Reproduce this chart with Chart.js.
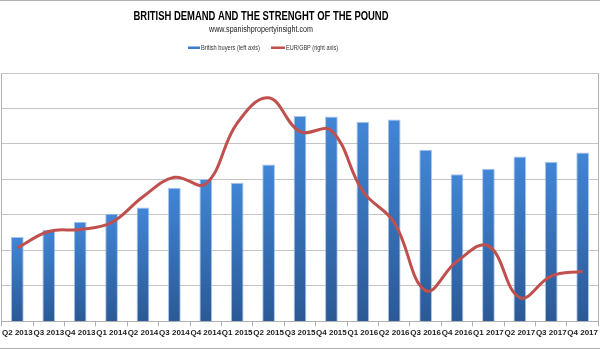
<!DOCTYPE html>
<html>
<head>
<meta charset="utf-8">
<script src="https://cdn.jsdelivr.net/npm/chart.js@4"></script>
<style>
  html, body { margin: 0; padding: 0; background: #fff; }
  #wrap { width: 600px; height: 350px; }
</style>
</head>
<body>
<div id="wrap"><canvas id="chart" width="600" height="350"></canvas></div>
<script>
// --- data ---
const quarters = ['Q2 2013', 'Q3 2013', 'Q4 2013', 'Q1 2014', 'Q2 2014', 'Q3 2014', 'Q4 2014',
  'Q1 2015', 'Q2 2015', 'Q3 2015', 'Q4 2015', 'Q1 2016', 'Q2 2016', 'Q3 2016', 'Q4 2016',
  'Q1 2017', 'Q2 2017', 'Q3 2017', 'Q4 2017'];
const britishBuyers = [475, 517, 562, 607, 642, 753, 802, 781, 885, 1157, 1155, 1125, 1138, 967, 830, 860, 930, 900, 952];
const eurGbp = [1.148, 1.181, 1.185, 1.199, 1.251, 1.290, 1.277, 1.399, 1.450, 1.382, 1.384, 1.262, 1.199, 1.062, 1.121, 1.152, 1.048, 1.091, 1.101];
const seriesNames = ['British buyers (left axis)', 'EUR/GBP (right axis)'];
const titleText = 'BRITISH DEMAND AND THE STRENGHT OF THE POUND';
const subtitleText = 'www.spanishpropertyinsight.com';

const FONT = "'Liberation Sans', Arial, sans-serif";
const BLUE = '#3b7cc9';
const RED = '#c0504d';

// gradient for each bar, light on top, darker at the base
function barGradient(context) {
  const chart = context.chart;
  const area = chart.chartArea;
  if (!area || context.raw == null) return BLUE;
  const top = chart.scales.y.getPixelForValue(context.raw);
  const g = chart.ctx.createLinearGradient(0, top, 0, area.bottom);
  g.addColorStop(0, '#4186d6');
  g.addColorStop(1, '#2b5996');
  return g;
}

// draw text squeezed horizontally to a width (the original uses a narrow font)
function drawFitted(ctx, text, font, x, y, width, align) {
  ctx.font = font;
  const k = width / ctx.measureText(text).width;
  ctx.save();
  ctx.translate(x, y);
  ctx.scale(k, 1);
  ctx.textAlign = align;
  ctx.textBaseline = 'middle';
  ctx.fillText(text, 0, 0);
  ctx.restore();
}

// title, subtitle, legend and frame lines (header centred like the original, slightly left)
const headerPlugin = {
  id: 'header',
  afterDraw(chart) {
    const ctx = chart.ctx;
    const cx = 261;
    ctx.save();
    ctx.fillStyle = '#000';
    drawFitted(ctx, titleText, 'bold 12.5px ' + FONT, cx, 16.5, 255, 'center');
    ctx.fillStyle = '#222';
    drawFitted(ctx, subtitleText, 'normal 8.5px ' + FONT, cx, 29.5, 104, 'center');

    // legend
    const items = [
      { x: 188, w: 12, c: BLUE, t: seriesNames[0], tw: 59 },
      { x: 271, w: 14, c: RED, t: seriesNames[1], tw: 52 }
    ];
    items.forEach(it => {
      ctx.fillStyle = it.c;
      ctx.fillRect(it.x, 46.5, it.w, 2.5);
      ctx.fillStyle = '#333';
      drawFitted(ctx, it.t, 'normal 7.5px ' + FONT, it.x + it.w + 1, 48, it.tw, 'left');
    });

    // frame
    ctx.strokeStyle = '#b0b0b0';
    ctx.lineWidth = 1;
    ctx.beginPath();
    ctx.moveTo(0, 0.5); ctx.lineTo(600, 0.5);
    ctx.moveTo(0, 348.5); ctx.lineTo(600, 348.5);
    ctx.stroke();
    ctx.restore();
  }
};

new Chart(document.getElementById('chart'), {
  data: {
    labels: quarters,
    datasets: [
      {
        type: 'line',
        label: seriesNames[1],
        data: eurGbp,
        yAxisID: 'y2',
        borderColor: RED,
        borderWidth: 3,
        pointRadius: 0,
        tension: 0.4,
        order: 0
      },
      {
        type: 'bar',
        label: seriesNames[0],
        data: britishBuyers,
        yAxisID: 'y',
        backgroundColor: barGradient,
        borderColor: 'rgba(160,190,230,0.9)',
        borderWidth: 1,
        barPercentage: 0.5,
        categoryPercentage: 0.81,
        order: 1
      }
    ]
  },
  options: {
    responsive: false,
    devicePixelRatio: 1,
    animation: false,
    layout: { padding: { top: 73, left: 1, right: 1, bottom: 10 } },
    plugins: {
      legend: { display: false },
      tooltip: { enabled: false }
    },
    scales: {
      x: {
        grid: { display: true, drawOnChartArea: false, tickLength: 5, color: '#b0b0b0', offset: true },
        border: { color: '#b0b0b0' },
        ticks: {
          autoSkip: false, maxRotation: 0, minRotation: 0, padding: 2,
          color: '#222', font: { family: FONT, size: 8, weight: 'bold' }
        }
      },
      y: {
        position: 'left',
        min: 0, max: 1400,
        ticks: { display: false, stepSize: 200 },
        grid: { color: '#c4c4c4', drawTicks: false },
        border: { color: '#b0b0b0' }
      },
      y2: {
        position: 'right',
        min: 1.0, max: 1.5,
        ticks: { display: false },
        grid: { drawOnChartArea: false, drawTicks: false },
        border: { color: '#b0b0b0' }
      }
    }
  },
  plugins: [headerPlugin]
});
</script>
</body>
</html>
